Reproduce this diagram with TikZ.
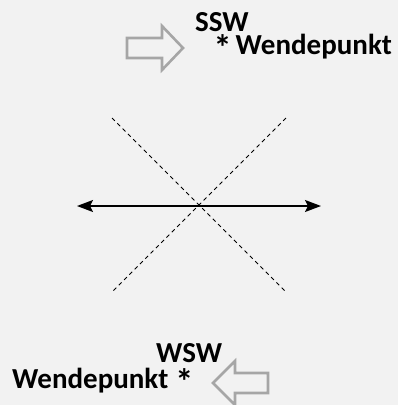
\documentclass[tikz,border=0pt]{standalone}
\usepackage{fontspec}
\usepackage{graphicx}
\setmainfont{Carlito}
\usetikzlibrary{arrows.meta}
\definecolor{bg}{HTML}{F2F2F2}
\definecolor{arrgray}{HTML}{A6A6A6}
\newcommand{\bigast}{\smash{\raisebox{-6pt}{\scalebox{1.25}{*}}}}
\tikzset{
  lbl/.style={inner sep=0pt, font=\fontsize{29}{34}\selectfont\bfseries},
  hollowarrow/.style={draw=arrgray, line width=2.6pt, line join=miter},
  diag/.style={dashed, dash pattern=on 4pt off 3.5pt, line width=0.9pt},
  axis/.style={line width=1.4pt, {Stealth[length=16pt,width=12pt,inset=3pt]}-{Stealth[length=16pt,width=12pt,inset=3pt]}}
}
\begin{document}
\begin{tikzpicture}[x=1pt,y=-1pt]
\fill[bg] (0,0) rectangle (398,405);
\useasboundingbox (0,0) rectangle (398,405);
% top arrow
\draw[hollowarrow] (127,38) -- (162,38) -- (162,26) -- (183,48) -- (162,70) -- (162,58) -- (127,58) -- cycle;
\node[lbl, anchor=base west] (ssw) at (195,31) {SSW};
\node[lbl, anchor=base east] (wp1) at (392,54) {\bigast\hspace{4pt}Wendepunkt};
% bottom arrow
\draw[hollowarrow] (268,373) -- (235,373) -- (235,361) -- (213,383) -- (235,405) -- (235,393) -- (268,393) -- cycle;
\node[lbl, anchor=base west] (wsw) at (156,362) {WSW};
\node[lbl, anchor=base west] (wp2) at (12,388) {Wendepunkt\hspace{7pt}\bigast};
% center
\coordinate (c) at (199,205);
\coordinate (tl) at (112,118);
\coordinate (br) at (286,292);
\coordinate (tr) at (286,118);
\coordinate (bl) at (112,292);
\coordinate (l) at (77,206);
\coordinate (r) at (321,206);
\draw[diag] (tl) -- (br);
\draw[diag] (tr) -- (bl);
\draw[axis] (l) -- (r);
\end{tikzpicture}
\end{document}
